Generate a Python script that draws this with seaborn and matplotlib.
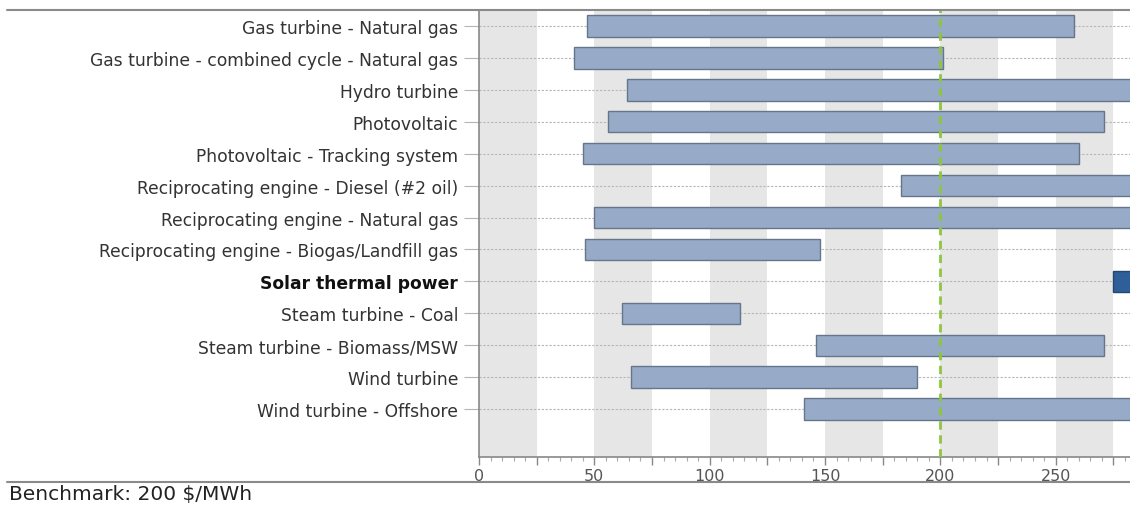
import matplotlib
matplotlib.use("Agg")
import matplotlib.pyplot as plt
import seaborn as sns
import pandas as pd
from matplotlib.lines import Line2D
from matplotlib.ticker import MultipleLocator, FuncFormatter

TECHNOLOGIES = [
    "Gas turbine - Natural gas",
    "Gas turbine - combined cycle - Natural gas",
    "Hydro turbine",
    "Photovoltaic",
    "Photovoltaic - Tracking system",
    "Reciprocating engine - Diesel (#2 oil)",
    "Reciprocating engine - Natural gas",
    "Reciprocating engine - Biogas/Landfill gas",
    "Solar thermal power",
    "Steam turbine - Coal",
    "Steam turbine - Biomass/MSW",
    "Wind turbine",
    "Wind turbine - Offshore",
]
# cost range in $/MWh (bars running off the right edge are estimates)
COST_LOW = [47, 41, 64, 56, 45, 183, 50, 46, 275, 62, 146, 66, 141]
COST_HIGH = [258, 201, 320, 271, 260, 330, 310, 148, 360, 113, 271, 190, 300]
HIGHLIGHT = "Solar thermal power"
BENCHMARK = 200

df = pd.DataFrame({"tech": TECHNOLOGIES, "low": COST_LOW, "high": COST_HIGH})
df["span"] = df["high"] - df["low"]

sns.set_style("white")
plt.rcParams["font.family"] = ["DejaVu Sans"]

fig = plt.figure(figsize=(11.3, 5.06), dpi=100)
ax = fig.add_axes([479 / 1130, 1 - 458 / 506, 1 - 479 / 1130, (458 - 11) / 506])

# alternating grey bands every 25 $/MWh
for x0 in range(0, 300, 50):
    ax.axvspan(x0, x0 + 25, color="#e6e6e6", lw=0, zorder=0)

sns.barplot(data=df, x="span", y="tech", left=df["low"], orient="h",
            width=0.67, color="#97aac8", edgecolor="#66768a", linewidth=1,
            saturation=1, ax=ax, zorder=2)

bars = ax.containers[0]
hi = TECHNOLOGIES.index(HIGHLIGHT)
bars.patches[hi].set_facecolor("#2f5f98")
bars.patches[hi].set_edgecolor("#24466f")

ax.axvline(BENCHMARK, color="#8dc63f", lw=2, ls=(0, (3, 2)), zorder=3)

ax.set_xlim(0, 282.2)
ax.set_ylim(13.5, -0.5)
ax.set_xlabel("")
ax.set_ylabel("")

ax.yaxis.grid(True, color="#b5b5b5", lw=0.8, ls=(0, (2, 1.5)))
ax.xaxis.grid(False)
ax.set_axisbelow(True)
for gl in ax.get_ygridlines():
    gl.set_zorder(1)

ax.xaxis.set_major_locator(MultipleLocator(25))
ax.xaxis.set_minor_locator(MultipleLocator(5))
ax.xaxis.set_major_formatter(FuncFormatter(lambda v, p: f"{v:.0f}" if v % 50 == 0 else ""))
ax.tick_params(axis="x", which="major", bottom=True, direction="out", length=6, width=1,
               color="#888888", labelsize=11.5, labelcolor="#555555", pad=2)
ax.tick_params(axis="x", which="minor", bottom=True, direction="out", length=3, width=0.8,
               color="#aaaaaa")
ax.tick_params(axis="y", left=True, direction="out", length=11, width=0.8, color="#b5b5b5",
               labelsize=12.3, labelcolor="#333333", pad=4)

for lbl in ax.get_yticklabels():
    if lbl.get_text() == HIGHLIGHT:
        lbl.set_fontweight("bold")
        lbl.set_color("#111111")

for side in ["top", "right"]:
    ax.spines[side].set_visible(False)
ax.spines["left"].set_color("#888888")
ax.spines["bottom"].set_color("#888888")
ax.spines["left"].set_linewidth(1.2)
ax.spines["bottom"].set_linewidth(1.2)

# frame lines across the whole figure
fig.add_artist(Line2D([7 / 1130, 1], [1 - 11 / 506] * 2, color="#8a8a8a", lw=1.5))
fig.add_artist(Line2D([7 / 1130, 1], [1 - 483 / 506] * 2, color="#8a8a8a", lw=1.5))
fig.text(9 / 1130, 1 - 495 / 506, f"Benchmark: {BENCHMARK} $/MWh", ha="left", va="center",
         fontsize=14.5, color="#222222")

fig.savefig("out.png", dpi=100)
